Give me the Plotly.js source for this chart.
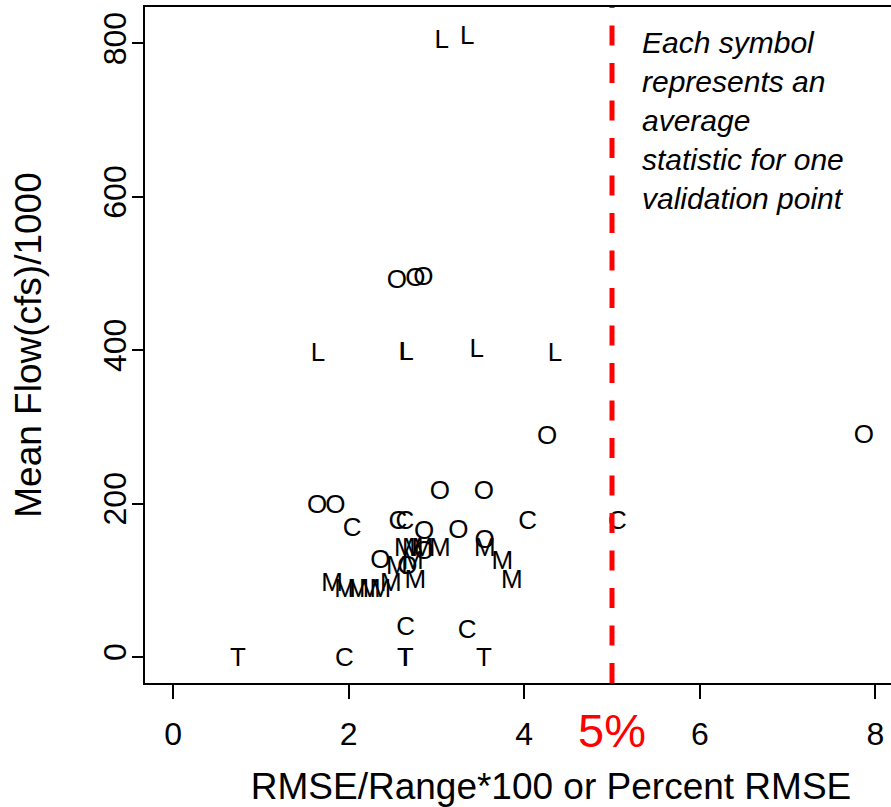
<!DOCTYPE html>
<html>
<head>
<meta charset="utf-8">
<script src="https://cdn.plot.ly/plotly-3.0.1.min.js"></script>
<style>
html,body{margin:0;padding:0;overflow:hidden;background:#fff;}
#chart{width:957px;height:807px;}
</style>
</head>
<body>
<div id="chart"></div>
<script>
// O = one symbol class
const oX = [1.64, 1.85, 2.55, 2.76, 2.85, 3.04, 3.54, 2.86, 3.25, 3.55, 2.86, 2.36, 2.67, 4.26, 7.87];
const oY = [196, 196, 489, 492, 494, 214, 215, 162, 163, 150, 136, 124, 117, 286, 288];
// C
const cX = [2.04, 2.56, 2.64, 4.04, 5.06, 2.65, 3.35, 1.95];
const cY = [166, 175, 175, 175, 175, 37, 33, -4];
// L
const lX = [3.06, 3.35, 1.65, 2.65, 2.66, 3.46, 4.35];
const lY = [803, 808, 394, 396, 396, 400, 394];
// T
const tX = [0.74, 2.64, 2.65, 3.54];
const tY = [-4, -4, -4, -4];
// M
const mX = [1.81, 1.96, 2.11, 2.24, 2.36, 2.48, 2.64, 2.73, 2.84, 3.04, 3.55, 3.75, 3.86, 2.76, 2.55, 2.73];
const mY = [94, 87, 87, 87, 87, 95, 140, 140, 140, 140, 140, 123, 98, 98, 117, 123];

const xTicks = [0, 2, 4, 6, 8];
const yTicks = [0, 200, 400, 600, 800];
const threshold = 5;

const FONT = 'Liberation Sans, Arial, Helvetica, sans-serif';

function letterTrace(xs, ys, letter) {
  return {
    type: 'scatter', mode: 'text',
    x: xs, y: ys,
    text: xs.map(() => letter),
    textposition: 'middle center',
    textfont: {family: FONT, size: 26, color: '#000'},
    hoverinfo: 'x+y', showlegend: false
  };
}

const data = [
  letterTrace(oX, oY, 'O'),
  letterTrace(cX, cY, 'C'),
  letterTrace(lX, lY, 'L'),
  letterTrace(tX, tY, 'T'),
  letterTrace(mX, mY, 'M')
];

const layout = {
  width: 957, height: 807,
  margin: {l: 145, r: 0, t: 7, b: 124},
  paper_bgcolor: '#fff', plot_bgcolor: '#fff',
  showlegend: false,
  font: {family: FONT, color: '#000'},
  xaxis: {
    range: [-0.32, 8.93], tickvals: xTicks, ticktext: xTicks.map(String),
    ticks: 'outside', ticklen: 14, tickwidth: 1.5, tickcolor: '#000',
    ticklabelstandoff: 8,
    showline: true, linecolor: '#000', linewidth: 1.5, mirror: true,
    showgrid: false, zeroline: false,
    tickfont: {family: FONT, size: 32, color: '#000'},
    title: {text: 'RMSE/Range*100 or Percent RMSE', font: {family: FONT, size: 37, color: '#000'}, standoff: 24}
  },
  yaxis: {
    range: [-34, 847.5], tickvals: yTicks, ticktext: yTicks.map(String),
    ticks: 'outside', ticklen: 11, tickwidth: 1.5, tickcolor: '#000',
    tickangle: -90, ticklabelstandoff: -7,
    showline: true, linecolor: '#000', linewidth: 1.5, mirror: true,
    showgrid: false, zeroline: false,
    tickfont: {family: FONT, size: 32, color: '#000'},
    title: {text: 'Mean Flow(cfs)/1000', font: {family: FONT, size: 37, color: '#000'}, standoff: 45}
  },
  shapes: [{
    type: 'line', xref: 'x', yref: 'paper',
    x0: threshold, x1: threshold, y0: 0, y1: 1,
    line: {color: '#ff0000', width: 5, dash: '20px,17.5px'}
  }],
  annotations: [
    {
      xref: 'x', yref: 'paper', x: threshold, y: 0, yshift: -19,
      xanchor: 'center', yanchor: 'top', showarrow: false,
      text: '5%', font: {family: FONT, size: 47, color: '#ff0000'}
    },
    {
      xref: 'x', yref: 'paper', x: 5.32, y: 0.975,
      xanchor: 'left', yanchor: 'top', align: 'left', showarrow: false,
      text: 'Each symbol<br>represents an<br>average<br>statistic for one<br>validation point',
      font: {family: FONT, size: 30, color: '#000', style: 'italic'}
    }
  ]
};

Plotly.newPlot('chart', data, layout, {displayModeBar: false, responsive: false});
</script>
</body>
</html>
